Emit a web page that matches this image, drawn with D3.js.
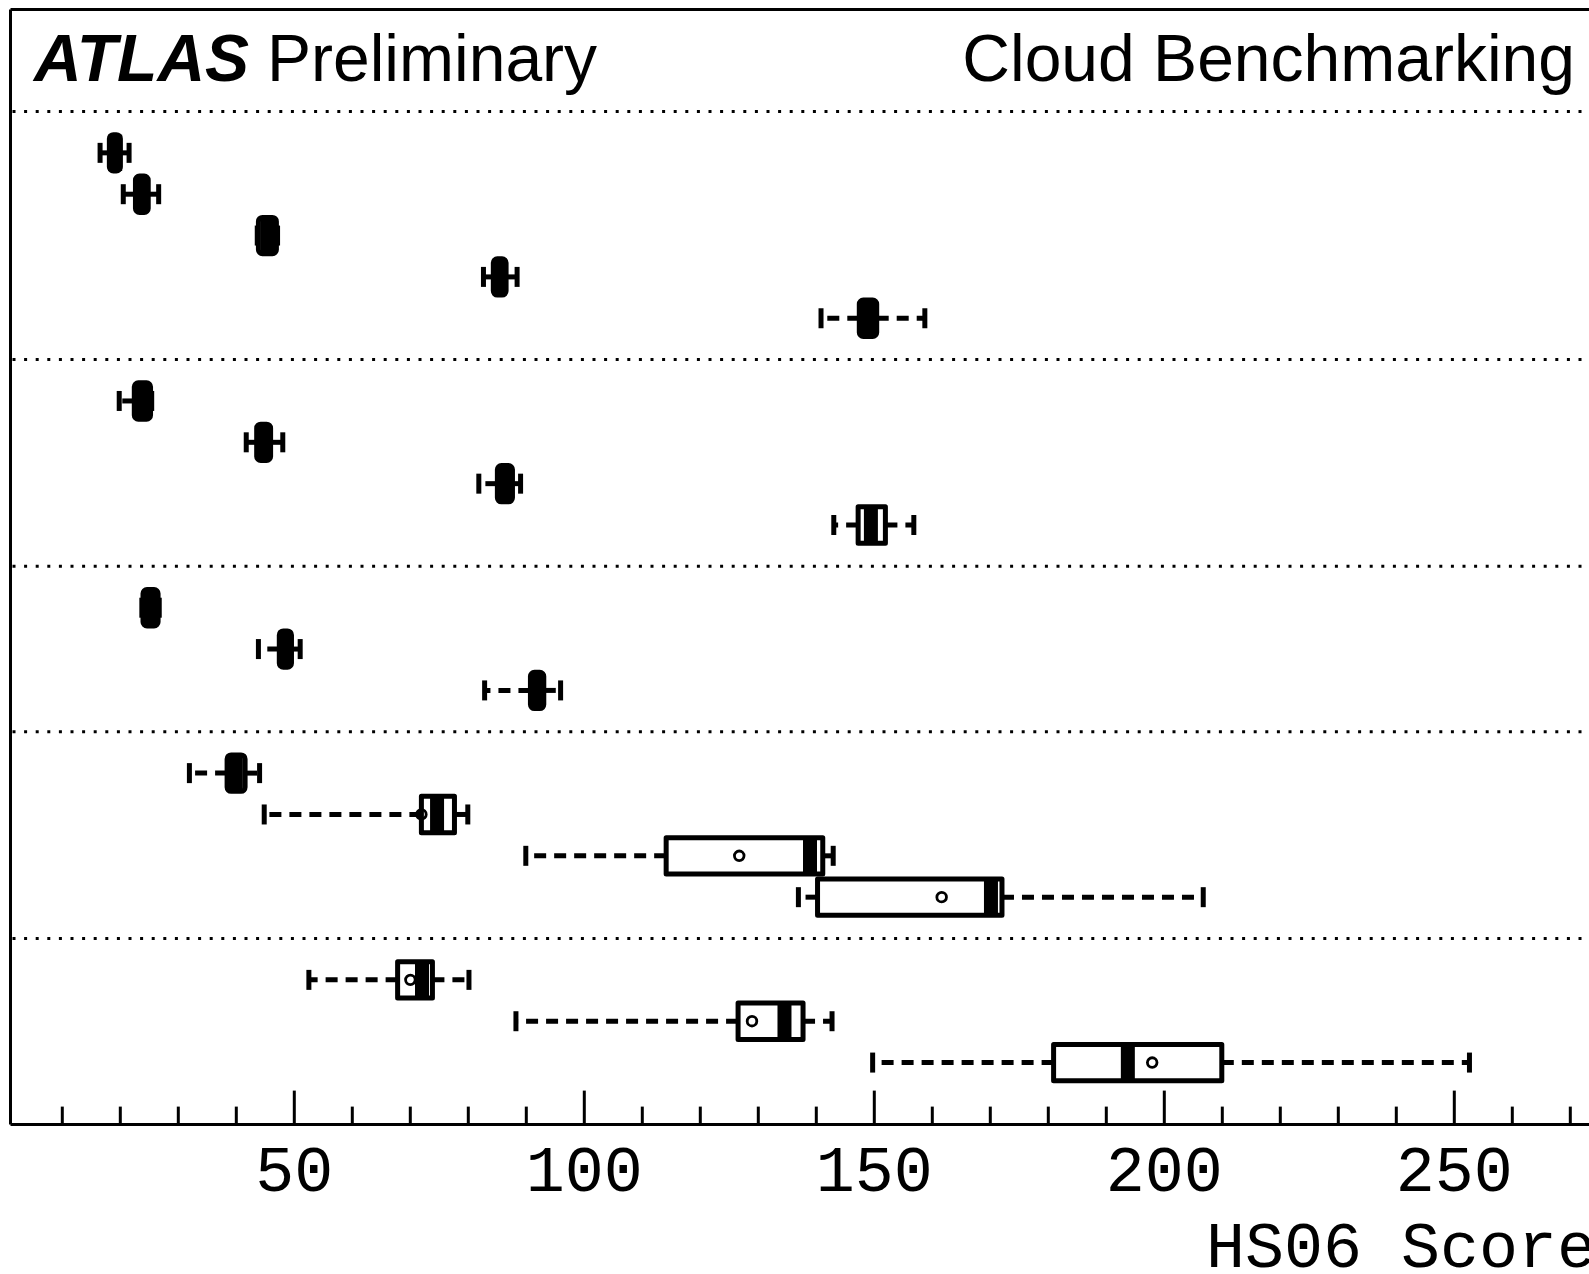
<!DOCTYPE html>
<html>
<head>
<meta charset="utf-8">
<script src="https://cdn.jsdelivr.net/npm/d3@7"></script>
<style>
  body { margin: 0; background: #fff; }
  svg { display: block; }
</style>
</head>
<body>
<svg id="chart" width="1589" height="1274"></svg>
<script>
// rows per group (top to bottom), separated by dotted lines
const groupSizes = [5, 4, 3, 4, 3];

// box statistics, one entry per row, top to bottom
const whiskerLow  = [16.6, 20.6, 43.7, 82.7, 140.9,  19.9, 41.8, 81.9, 143.1,  23.8, 43.9, 82.9,  32.0, 44.9,  90.0, 137.0,  52.6,  88.3, 149.8];
const q1          = [18.2, 22.7, 43.9, 84.4, 147.5,  22.5, 43.6, 85.1, 147.3,  24.0, 47.5, 90.8,  38.5, 72.0, 114.2, 140.3,  67.9, 126.6, 181.0];
const median      = [19.2, 23.8, 45.5, 85.5, 149.0,  24.0, 44.8, 86.4, 149.5,  25.3, 48.5, 92.0,  40.0, 74.7, 139.0, 170.2,  72.1, 134.6, 193.8];
const q3          = [20.1, 24.9, 47.0, 86.6, 150.5,  25.3, 46.0, 87.7, 152.0,  26.6, 49.6, 93.1,  41.6, 77.7, 141.2, 172.1,  73.9, 137.8, 210.0];
const whiskerHigh = [21.6, 26.7, 47.2, 88.5, 158.8,  25.5, 48.1, 89.1, 156.9,  26.8, 51.1, 96.0,  44.1, 80.0, 143.0, 206.8,  80.2, 142.8, 252.7];
const means       = [19.2, 23.8, 45.5, 85.5, 149.0,  24.0, 44.8, 86.4, 149.5,  25.3, 48.5, 92.0,  40.0, 72.0, 126.8, 161.7,  70.1, 129.0, 198.0];

const minorTicks = d3.range(10, 300, 10);
const majorTicks = [50, 100, 150, 200, 250];

const svg = d3.select("#chart");

const frameLeft = 10.5, frameTop = 9.5, frameRight = 1600;

const x = d3.scaleLinear().domain([0, 300]).range([3.8, 3.8 + 5.8 * 300]);

// vertical slots: slot 0 is the first separator, rows and separators follow
const rows = [];
const separators = [0];
let slot = 1;
groupSizes.forEach(n => {
  for (let i = 0; i < n; i++) rows.push(slot++);
  separators.push(slot++);
});
separators.pop();
const axisSlot = slot - 0.5;

const y = d3.scaleLinear().domain([0, axisSlot]).range([111.5, 1124.6]);
const step = y(1) - y(0);
const axisY = y(axisSlot);

const data = rows.map((s, i) => ({
  slot: s,
  lo: whiskerLow[i], q1: q1[i], med: median[i], q3: q3[i], hi: whiskerHigh[i], mean: means[i]
}));

// frame
svg.append("line").attr("x1", frameLeft).attr("x2", frameRight).attr("y1", frameTop).attr("y2", frameTop)
  .attr("stroke", "#000").attr("stroke-width", 3);
svg.append("line").attr("x1", frameLeft).attr("x2", frameLeft).attr("y1", frameTop).attr("y2", axisY)
  .attr("stroke", "#000").attr("stroke-width", 3);

// group separators
svg.append("g").selectAll("line").data(separators).join("line")
  .attr("x1", frameLeft + 2).attr("x2", frameRight)
  .attr("y1", d => y(d)).attr("y2", d => y(d))
  .attr("stroke", "#000").attr("stroke-width", 3)
  .attr("stroke-dasharray", "3,8.6");

// x axis: minor and major ticks point inwards
const minorAxis = d3.axisBottom(x).tickValues(minorTicks.filter(t => !majorTicks.includes(t)))
  .tickSizeInner(-18).tickSizeOuter(0).tickFormat("");
const majorAxis = d3.axisBottom(x).tickValues(majorTicks)
  .tickSizeInner(-34).tickSizeOuter(0).tickFormat(d3.format("d"));

const gMinor = svg.append("g").attr("transform", `translate(0,${axisY})`).call(minorAxis);
const gMajor = svg.append("g").attr("transform", `translate(0,${axisY})`).call(majorAxis);
[gMinor, gMajor].forEach(g => {
  g.select(".domain").remove();
  g.selectAll(".tick line").attr("stroke", "#000").attr("stroke-width", 3);
});
gMajor.selectAll(".tick text")
  .attr("y", 66).attr("dy", null)
  .attr("fill", "#000")
  .style("font-family", "'Liberation Mono', monospace")
  .style("font-size", "65px");

svg.append("line").attr("x1", frameLeft).attr("x2", frameRight).attr("y1", axisY).attr("y2", axisY)
  .attr("stroke", "#000").attr("stroke-width", 3);

// axis title runs off the right edge, as in the source figure
svg.append("text")
  .attr("x", 1206).attr("y", 1267)
  .style("font-family", "'Liberation Mono', monospace")
  .style("font-size", "65px")
  .attr("fill", "#000")
  .text("HS06 Score");

// boxes
const boxH = step - 5;
const stapleH = 20;
const g = svg.append("g");

const box = g.selectAll("g.box").data(data).join("g").attr("class", "box")
  .attr("transform", d => `translate(0,${y(d.slot)})`);

box.append("line")
  .attr("x1", d => x(d.q1)).attr("x2", d => x(d.lo))
  .attr("stroke", "#000").attr("stroke-width", 5).attr("stroke-dasharray", "12,8");
box.append("line")
  .attr("x1", d => x(d.q3)).attr("x2", d => x(d.hi))
  .attr("stroke", "#000").attr("stroke-width", 5).attr("stroke-dasharray", "12,8");

box.append("line")
  .attr("x1", d => x(d.lo)).attr("x2", d => x(d.lo))
  .attr("y1", -stapleH / 2).attr("y2", stapleH / 2)
  .attr("stroke", "#000").attr("stroke-width", 5);
box.append("line")
  .attr("x1", d => x(d.hi)).attr("x2", d => x(d.hi))
  .attr("y1", -stapleH / 2).attr("y2", stapleH / 2)
  .attr("stroke", "#000").attr("stroke-width", 5);

box.append("rect")
  .attr("x", d => x(d.q1)).attr("width", d => x(d.q3) - x(d.q1))
  .attr("y", -boxH / 2).attr("height", boxH)
  .attr("rx", d => (x(d.q3) - x(d.q1) < 25 ? 4 : 0))
  .attr("fill", "none").attr("stroke", "#000").attr("stroke-width", 5)
  .attr("stroke-linejoin", "round");

box.append("line")
  .attr("x1", d => x(d.med)).attr("x2", d => x(d.med))
  .attr("y1", -boxH / 2).attr("y2", boxH / 2)
  .attr("stroke", "#000").attr("stroke-width", 14);

box.append("circle")
  .attr("cx", d => x(d.mean)).attr("cy", 0).attr("r", 4.8)
  .attr("fill", "none").attr("stroke", "#000").attr("stroke-width", 2.8);

// header texts
const title = svg.append("text").attr("y", 81)
  .style("font-family", "'Liberation Sans', Arial, sans-serif")
  .style("font-size", "66px").attr("fill", "#000");
title.append("tspan").attr("x", 34).style("font-weight", "bold").style("font-style", "italic").text("ATLAS");
title.append("tspan").attr("x", 267).text("Preliminary");

svg.append("text")
  .attr("x", 1575).attr("y", 81)
  .attr("text-anchor", "end")
  .style("font-family", "'Liberation Sans', Arial, sans-serif")
  .style("font-size", "66px").attr("fill", "#000")
  .text("Cloud Benchmarking");
</script>
</body>
</html>
